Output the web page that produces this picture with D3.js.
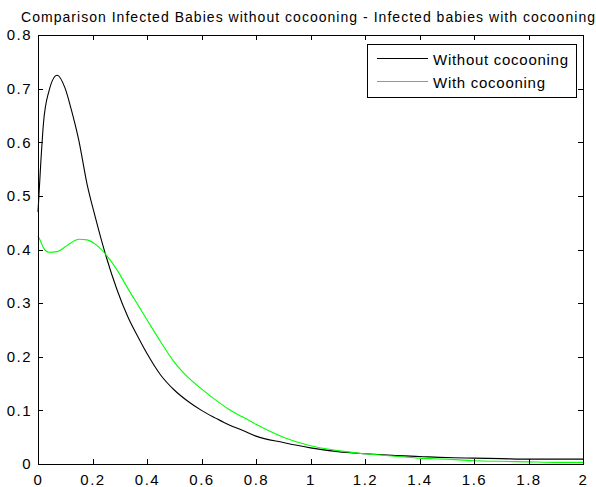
<!DOCTYPE html>
<html>
<head>
<meta charset="utf-8">
<script src="https://cdn.jsdelivr.net/npm/d3@7"></script>
<style>
  body { margin: 0; background: #fff; overflow: hidden; }
  svg { display: block; }
  text { font-family: "Liberation Sans", Arial, sans-serif; fill: #000; }
</style>
</head>
<body>
<svg id="chart" width="596" height="487"></svg>
<script>
// values
var xs = [0, 0.01, 0.02, 0.04, 0.07, 0.10, 0.12, 0.15, 0.18, 0.21, 0.25, 0.29, 0.33, 0.37, 0.40,
          0.45, 0.50, 0.55, 0.60, 0.65, 0.70, 0.75, 0.80, 0.90, 1.00, 1.10, 1.20, 1.30, 1.40,
          1.50, 1.60, 1.70, 1.80, 1.90, 2.00];
var without_cocooning = [0.47, 0.56, 0.635, 0.695, 0.725, 0.70, 0.665, 0.603, 0.522, 0.461, 0.387,
          0.325, 0.274, 0.234, 0.206, 0.166, 0.138, 0.117, 0.100, 0.086, 0.073, 0.063, 0.052,
          0.040, 0.030, 0.023, 0.019, 0.016, 0.014, 0.012, 0.011, 0.010, 0.009, 0.009, 0.009];
var with_cocooning = [0.425, 0.415, 0.403, 0.395, 0.396, 0.405, 0.412, 0.419, 0.418, 0.410, 0.390,
          0.362, 0.327, 0.294, 0.269, 0.228, 0.190, 0.162, 0.140, 0.120, 0.102, 0.088, 0.074,
          0.050, 0.034, 0.025, 0.019, 0.015, 0.011, 0.009, 0.006, 0.005, 0.004, 0.003, 0.003];
var xticks = [0, 0.2, 0.4, 0.6, 0.8, 1, 1.2, 1.4, 1.6, 1.8, 2];
var yticks = [0, 0.1, 0.2, 0.3, 0.4, 0.5, 0.6, 0.7, 0.8];
var series_names = ["Without cocooning", "With cocooning"];
var series_colors = ["#000000", "#00ff00"];
var title = "Comparison Infected Babies without cocooning - Infected babies with cocooning";

var axLeft = 38, axRight = 583, axTop = 35, axBottom = 464;
var svg = d3.select("#chart");

var x = d3.scaleLinear().domain([0, 2]).range([axLeft, axRight]);
var y = d3.scaleLinear().domain([0, 0.8]).range([axBottom, axTop]);

var line = d3.line()
    .x(function(d) { return x(d[0]); })
    .y(function(d) { return y(d[1]); })
    .curve(d3.curveMonotoneX);

[without_cocooning, with_cocooning].forEach(function(vals, i) {
    svg.append("path")
        .datum(xs.map(function(v, j) { return [v, vals[j]]; }))
        .attr("d", line)
        .attr("fill", "none")
        .attr("stroke", series_colors[i])
        .attr("stroke-width", 1.1);
});

// axes, MATLAB style: ticks inward on all four sides
var fmt = function(d) { return String(d); };
var bottomAxis = d3.axisBottom(x).tickValues(xticks).tickSize(-5).tickPadding(10).tickFormat(fmt);
var topAxis = d3.axisTop(x).tickValues(xticks).tickSize(-5).tickFormat("");
var leftAxis = d3.axisLeft(y).tickValues(yticks).tickSize(-5).tickPadding(6).tickFormat(fmt);
var rightAxis = d3.axisRight(y).tickValues(yticks).tickSize(-5).tickFormat("");

function styleAxis(g) {
    g.select(".domain").remove();
    g.selectAll(".tick line").attr("stroke", "#000").attr("shape-rendering", "crispEdges");
    g.selectAll(".tick text").style("font-size", "15px").style("letter-spacing", "1.5px")
        .style("font-family", "'Liberation Sans', Arial, sans-serif");
}

svg.append("g").attr("transform", "translate(0," + axBottom + ")").call(bottomAxis).call(styleAxis);
svg.append("g").attr("transform", "translate(0," + axTop + ")").call(topAxis).call(styleAxis);
svg.append("g").attr("transform", "translate(" + axLeft + ",0)").call(leftAxis).call(styleAxis);
svg.append("g").attr("transform", "translate(" + axRight + ",0)").call(rightAxis).call(styleAxis);

svg.append("rect")
    .attr("x", axLeft).attr("y", axTop)
    .attr("width", axRight - axLeft).attr("height", axBottom - axTop)
    .attr("fill", "none").attr("stroke", "#000").attr("stroke-width", 1)
    .attr("shape-rendering", "crispEdges");

// title
svg.append("text")
    .attr("x", 308).attr("y", 22)
    .attr("text-anchor", "middle")
    .attr("textLength", 574).attr("lengthAdjust", "spacing")
    .style("font-size", "14px")
    .text(title);

// legend
var legend = svg.append("g");
legend.append("rect")
    .attr("x", 367.5).attr("y", 44.5).attr("width", 209).attr("height", 53)
    .attr("fill", "#fff").attr("stroke", "#000").attr("shape-rendering", "crispEdges");
var rowY = [58.5, 81.5];
var textLen = [135, 112];
series_names.forEach(function(name, i) {
    legend.append("line")
        .attr("x1", 377).attr("x2", 428)
        .attr("y1", rowY[i]).attr("y2", rowY[i])
        .attr("stroke", series_colors[i]);
    legend.append("text")
        .attr("x", 433).attr("y", rowY[i] + 6)
        .attr("textLength", textLen[i]).attr("lengthAdjust", "spacing")
        .style("font-size", "15px")
        .text(name);
});
</script>
</body>
</html>
